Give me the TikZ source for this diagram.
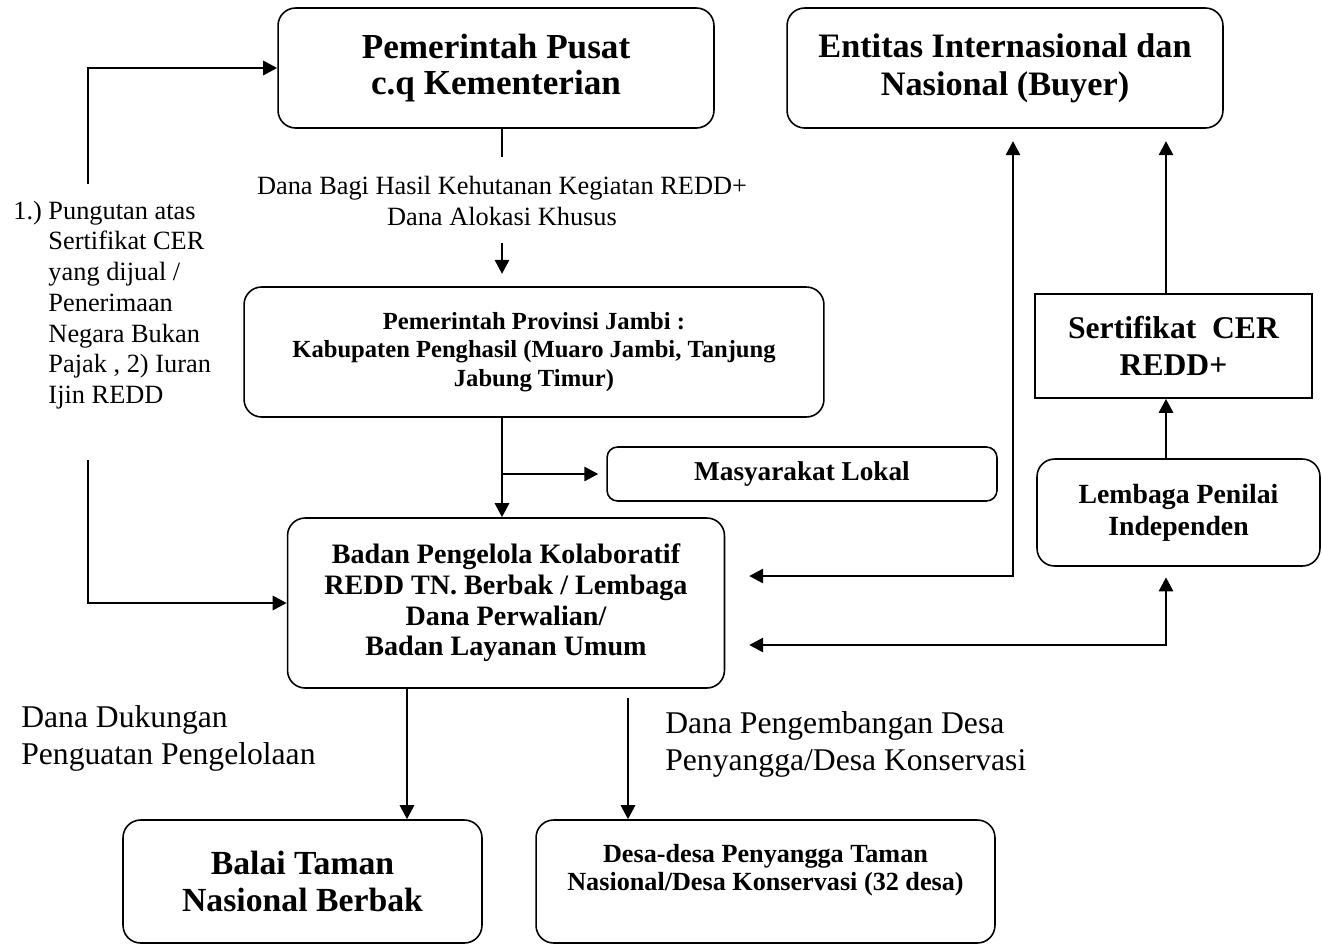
\documentclass[tikz,border=0pt]{standalone}
\usepackage{fontspec}
\setmainfont{Liberation Serif}
\usetikzlibrary{arrows.meta}
\newcommand\fsz[2]{\fontsize{#1}{#2}\selectfont}

\begin{document}
\begin{tikzpicture}[
    x=0.02cm, y=-0.02cm,
    box/.style={
        draw, line width=0.9pt, rounded corners=10pt,
        align=center, inner sep=0pt
    },
    sq/.style={
        box, rounded corners=0pt
    },
    conn/.style={
        line width=1.6pt,
        -{Triangle[length=8pt,width=8pt]}
    },
    both/.style={
        line width=1.6pt,
        {Triangle[length=8pt,width=8pt]}-{Triangle[length=8pt,width=8pt]}
    },
    l/.style={
        align=center, inner sep=0pt
    }
]
    \useasboundingbox (0,0) rectangle (1322,944);

    \node (pusat) [box, minimum width=8.72cm, minimum height=2.4cm,
        font=\bfseries\fsz{20}{21}] at (496,68)
        {Pemerintah Pusat\\c.q Kementerian};
    \node (entitas) [box, minimum width=8.72cm, minimum height=2.4cm,
        font=\bfseries\fsz{19.5}{21.5}] at (1005,68)
        {Entitas Internasional dan\\Nasional (Buyer)};
    \node (provinsi) [box, minimum width=11.6cm, minimum height=2.6cm,
        font=\bfseries\fsz{14}{16.2}] at (534,352)
        {Pemerintah Provinsi Jambi :\\Kabupaten Penghasil (Muaro Jambi, Tanjung\\Jabung Timur)};
    \node (masyarakat) [box, rounded corners=6pt, minimum width=7.8cm, minimum height=1.08cm,
        font=\bfseries\fsz{15.5}{18}] at (802,474)
        {Masyarakat Lokal};
    \node (badan) [box, minimum width=8.74cm, minimum height=3.4cm,
        font=\bfseries\fsz{16}{17.5}] at (506,603)
        {Badan Pengelola Kolaboratif\\REDD TN. Berbak / Lembaga\\Dana Perwalian/\\Badan Layanan Umum};
    \node (sertifikat) [sq, minimum width=5.54cm, minimum height=2.08cm,
        font=\bfseries\fsz{18}{21}] at (1173.5,346)
        {Sertifikat~~CER\\REDD+};
    \node (lembaga) [box, minimum width=5.66cm, minimum height=2.14cm,
        font=\bfseries\fsz{15.8}{18}] at (1178.5,512.5)
        {Lembaga Penilai\\Independen};
    \node (balai) [box, minimum width=7.18cm, minimum height=2.46cm,
        font=\bfseries\fsz{19.2}{21}] at (302.5,881.5)
        {Balai Taman\\Nasional Berbak};
    \node (desa) [box, minimum width=9.18cm, minimum height=2.46cm,
        font=\bfseries\fsz{14.9}{16}] at (765.5,881.5)
        {Desa-desa Penyangga Taman\\Nasional/Desa Konservasi (32 desa)\\\mbox{}};

    % keterangan aliran dana
    \node (dbh) [l, font=\fsz{15}{17.5}] at (502,201)
        {Dana Bagi Hasil Kehutanan Kegiatan REDD+\\Dana Alokasi Khusus};
    \node (pungutan) [l, align=left, anchor=west, font=\fsz{15}{17.5}] at (13,305)
        {1.)~Pungutan atas\\\hphantom{1.)~}Sertifikat CER\\\hphantom{1.)~}yang dijual /\\\hphantom{1.)~}Penerimaan\\\hphantom{1.)~}Negara Bukan\\\hphantom{1.)~}Pajak , 2) Iuran\\\hphantom{1.)~}Ijin REDD};
    \node (dukungan) [l, align=left, anchor=west, font=\fsz{18}{21}] at (21,738)
        {Dana Dukungan\\Penguatan Pengelolaan};
    \node (pengembangan) [l, align=left, anchor=west, font=\fsz{18}{21}] at (665,744)
        {Dana Pengembangan Desa\\Penyangga/Desa Konservasi};

    \coordinate (kiriatas) at (88,184);
    \coordinate (kiribawah) at (88,460);
    \coordinate (turun) at (502,157);
    \coordinate (masuk) at (502,243);
    \coordinate (kanan1) at (1013,576);
    \coordinate (kanan2) at (1166,645);
    \coordinate (kebalai) at (407,700);
    \coordinate (kedesa) at (628,700);

    \draw [conn] (kiriatas) |- (pusat.west);
    \draw [conn] (kiribawah) |- (badan.west);
    \draw [line width=1.6pt] (turun |- pusat.south) -- (turun);
    \draw [conn, shorten >=7pt] (masuk) -- (masuk |- provinsi.north);
    \draw [conn] (masuk |- provinsi.south) -- (masuk |- badan.north);
    \draw [conn, shorten >=4.5pt] (masuk |- masyarakat.west) -- (masyarakat.west);

    \draw [both, shorten <=13.6pt, shorten >=7pt]
        (kanan1 -| badan.east) -| (kanan1 |- entitas.south);
    \draw [both, shorten <=13.6pt, shorten >=6pt]
        (kanan2 -| badan.east) -| (kanan2 |- lembaga.south);
    \draw [conn] (kanan2 |- lembaga.north) -- (kanan2 |- sertifikat.south);
    \draw [conn, shorten >=7pt] (kanan2 |- sertifikat.north) -- (kanan2 |- entitas.south);

    \draw [conn] (kebalai |- badan.south) -- (kebalai |- balai.north);
    \draw [conn, shorten <=5pt] (kedesa |- badan.south) -- (kedesa |- desa.north);

\end{tikzpicture}
\end{document}
